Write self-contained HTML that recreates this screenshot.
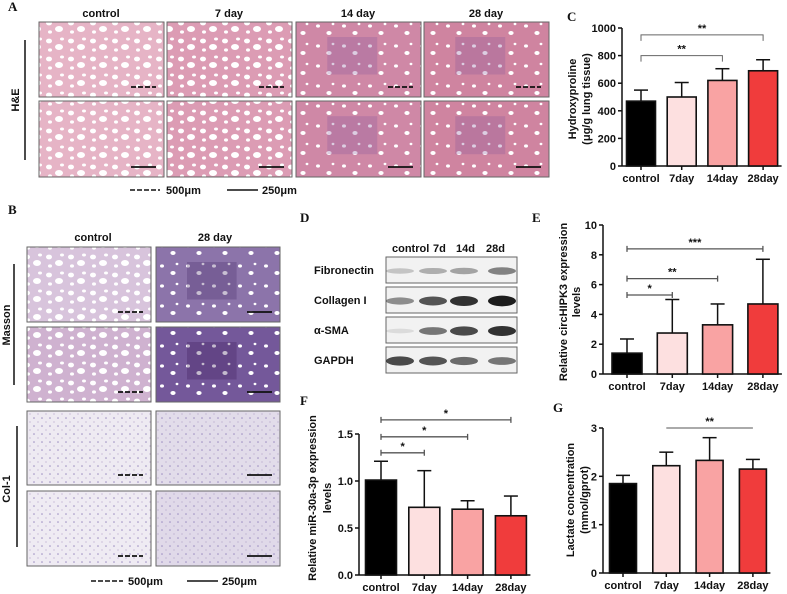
<!DOCTYPE html>
<html><head><meta charset="utf-8">
<style>
html,body{margin:0;padding:0;background:#fff;}
svg{display:block;font-family:"Liberation Sans",Arial,sans-serif;}
.t{font-weight:bold;font-size:11px;fill:#111;}
.pl{font-family:"Liberation Serif",serif;font-weight:bold;font-size:13px;fill:#111;}
</style></head>
<body>
<svg id="fig" width="787" height="594" viewBox="0 0 787 594">
<defs>
<pattern id="holesA" width="22" height="18" patternUnits="userSpaceOnUse">
<ellipse cx="5" cy="5" rx="3" ry="2.4" fill="#fff"/><ellipse cx="15" cy="11" rx="4" ry="3" fill="#fff"/><ellipse cx="6" cy="14" rx="2" ry="1.6" fill="#fff"/><ellipse cx="18" cy="3" rx="2" ry="1.5" fill="#fff"/>
</pattern>
<pattern id="holesB" width="26" height="20" patternUnits="userSpaceOnUse">
<ellipse cx="6" cy="6" rx="2" ry="1.6" fill="#fff"/><ellipse cx="17" cy="13" rx="2.6" ry="2" fill="#fff"/><ellipse cx="21" cy="4" rx="1.4" ry="1.2" fill="#fff"/>
</pattern>
<pattern id="dots" width="8" height="8" patternUnits="userSpaceOnUse">
<circle cx="2" cy="2" r="0.8" fill="#9a8cc0"/><circle cx="6" cy="6" r="0.6" fill="#b0a0c8"/>
</pattern>
</defs>

<!-- Panel A -->
<text class="pl" x="8" y="11">A</text>
<g class="t" text-anchor="middle">
<text x="101" y="17">control</text><text x="229" y="17">7 day</text><text x="358" y="17">14 day</text><text x="486" y="17">28 day</text>
</g>
<line x1="25" y1="40" x2="25" y2="160" stroke="#111" stroke-width="1.5"/>
<text class="t" transform="translate(19,100) rotate(-90)" text-anchor="middle">H&amp;E</text>
<g id="heImgs"></g>
<g>
<line x1="130" y1="190" x2="160" y2="190" stroke="#111" stroke-width="1.6" stroke-dasharray="5,2"/>
<text class="t" x="166" y="194">500μm</text>
<line x1="227" y1="190" x2="258" y2="190" stroke="#111" stroke-width="1.6"/>
<text class="t" x="262" y="194">250μm</text>
</g>

<!-- Panel B -->
<text class="pl" x="8" y="214">B</text>
<g class="t" text-anchor="middle"><text x="93" y="241">control</text><text x="215" y="241">28 day</text></g>
<line x1="14" y1="264" x2="14" y2="385" stroke="#111" stroke-width="1.5"/>
<text class="t" transform="translate(10,325) rotate(-90)" text-anchor="middle">Masson</text>
<line x1="17" y1="426" x2="17" y2="547" stroke="#111" stroke-width="1.5"/>
<text class="t" transform="translate(10,489) rotate(-90)" text-anchor="middle">Col-1</text>
<g id="bImgs"></g>
<g>
<line x1="91" y1="581" x2="123" y2="581" stroke="#111" stroke-width="1.6" stroke-dasharray="5,2"/>
<text class="t" x="128" y="585">500μm</text>
<line x1="187" y1="581" x2="218" y2="581" stroke="#111" stroke-width="1.6"/>
<text class="t" x="222" y="585">250μm</text>
</g>

<!-- Panel D -->
<text class="pl" x="300" y="222">D</text>
<g class="t">
<text x="392" y="252">control</text><text x="433" y="252">7d</text><text x="456" y="252">14d</text><text x="486" y="252">28d</text>
</g>
<g id="wb"></g>

<text class="pl" x="567" y="21">C</text>
<text class="pl" x="532" y="222">E</text>
<text class="pl" x="300" y="405">F</text>
<text class="pl" x="553" y="412">G</text>

<g id="chartC"></g>
<g id="chartE"></g>
<g id="chartF"></g>
<g id="chartG"></g>
</svg>
<script>
const NS='http://www.w3.org/2000/svg';
function mk(parent,tag,attrs,text){const e=document.createElementNS(NS,tag);for(const k in attrs)e.setAttribute(k,attrs[k]);if(text!==undefined)e.textContent=text;parent.appendChild(e);return e;}

function tile(g,x,y,w,h,bg,pat,dark,scale){
  const r=mk(g,'rect',{x:x,y:y,width:w,height:h,fill:bg});
  
  
  mk(g,'rect',{x:x,y:y,width:w,height:h,fill:'url(#'+pat+')'});
  if(dark) mk(g,'rect',{x:x+w*0.25,y:y+h*0.2,width:w*0.4,height:h*0.5,fill:dark,opacity:0.3});
  mk(g,'rect',{x:x,y:y,width:w,height:h,fill:'none',stroke:'#666','stroke-width':1});
  if(scale){const attrs={x1:x+w-33,y1:y+h-10,x2:x+w-8,y2:y+h-10,stroke:'#111','stroke-width':1.8};if(scale==='d')attrs['stroke-dasharray']='5,2';mk(g,'line',attrs);}
}
const heG=document.getElementById('heImgs');
const heX=[39,167,296,424], heBg=['#e6b4c6','#dc9cb4','#cf88a6','#cf84a0'];
heX.forEach((x,i)=>{tile(heG,x,22,125,75,heBg[i],i<2?'holesA':'holesB',i>=2?'#8a5a9a':null,'d');tile(heG,x,101,125,76,heBg[i],i<2?'holesA':'holesB',i>=2?'#8a5a9a':null,'s');});
const bG=document.getElementById('bImgs');
tile(bG,27,247,124,75,'#d8c4dc','holesA',null,'d');tile(bG,156,247,124,75,'#8c74aa','holesB','#4a2a6a','s');
tile(bG,27,327,124,75,'#cfb2d0','holesA',null,'d');tile(bG,156,327,124,75,'#74589a','holesB','#3a1a5a','s');
tile(bG,27,411,124,74,'#eeeaf2','dots',null,'d');tile(bG,156,411,124,74,'#e2dcea','dots',null,'s');
tile(bG,27,491,124,75,'#efebf3','dots',null,'d');tile(bG,156,491,124,75,'#e0d9e9','dots',null,'s');

// western blot
const wbNames=['Fibronectin','Collagen I','α-SMA','GAPDH'];
const wbY=[257,287,317,347];
const wbInt=[[0.2,0.3,0.35,0.5],[0.45,0.7,0.85,0.95],[0.1,0.55,0.75,0.85],[0.75,0.7,0.6,0.55]];
const laneX=[400,433,464,502];
const wb=document.getElementById('wb');
wbNames.forEach((n,r)=>{
  const t=mk(wb,'text',{x:314,y:wbY[r]+17,class:'t'},n);
  
  
  mk(wb,'rect',{x:386,y:wbY[r],width:131,height:26,fill:'#f2f2f2',stroke:'#666'});
  wbInt[r].forEach((v,i)=>{mk(wb,'ellipse',{cx:laneX[i],cy:wbY[r]+14,rx:14,ry:2+v*3.5,fill:'#111',opacity:v});});
});

// chart data
const cats=['control','7day','14day','28day'];
const colors=['#000000','#fde0e0','#f9a3a3','#f03c3c'];
const cVals=[470,500,620,690], cErr=[80,105,85,80], cTicks=[0,200,400,600,800,1000];
const eVals=[1.4,2.75,3.3,4.7], eErr=[0.95,2.25,1.4,3.0], eTicks=[0,2,4,6,8,10];
const fVals=[1.01,0.72,0.70,0.63], fErr=[0.2,0.39,0.09,0.21], fTicks=[0,0.5,1.0,1.5];
const gVals=[1.85,2.22,2.33,2.15], gErr=[0.17,0.28,0.47,0.2], gTicks=[0,1,2,3];

function chart(id,o){
  const g=document.getElementById(id);
  const y=v=>o.y0-v/o.max*(o.y0-o.ytop);
  const x=i=>o.x0+i*o.step;
  mk(g,'line',{x1:o.ax,y1:o.ytop,x2:o.ax,y2:o.y0,stroke:'#111','stroke-width':1.5});
  mk(g,'line',{x1:o.ax,y1:o.y0,x2:x(3)+o.bw/2+4,y2:o.y0,stroke:'#111','stroke-width':1.5});
  o.ticks.forEach(t=>{
    mk(g,'line',{x1:o.ax-4,y1:y(t),x2:o.ax,y2:y(t),stroke:'#111','stroke-width':1.5});
    const tl=mk(g,'text',{x:o.ax-6,y:y(t)+4,'text-anchor':'end',class:'t'},o.fmt(t));
    
    
  });
  o.vals.forEach((v,i)=>{
    const cx=x(i), top=y(v+o.err[i]);
    mk(g,'line',{x1:cx,y1:y(v),x2:cx,y2:top,stroke:'#111','stroke-width':1.5});
    mk(g,'line',{x1:cx-7,y1:top,x2:cx+7,y2:top,stroke:'#111','stroke-width':1.5});
    const b=mk(g,'rect',{x:cx-o.bw/2,y:y(v),width:o.bw,height:o.y0-y(v),fill:colors[i],stroke:'#111','stroke-width':1.6});
    
    
    mk(g,'line',{x1:cx,y1:o.y0,x2:cx,y2:o.y0+4,stroke:'#111','stroke-width':1.5});
    const l=mk(g,'text',{x:cx,y:o.y0+16,'text-anchor':'middle',class:'t'},cats[i]);
    
    
  });
  o.sig.forEach(s=>{
    const a=x(s.a),b=x(s.b),yy=y(s.v);
    if(s.type==='down'){mk(g,'path',{d:`M${a},${yy+6}V${yy}H${b}V${yy+6}`,fill:'none',stroke:'#666','stroke-width':1});}
    else if(s.type==='cap'){mk(g,'path',{d:`M${a},${yy-3}V${yy+3}M${a},${yy}H${b}M${b},${yy-3}V${yy+3}`,fill:'none',stroke:'#555','stroke-width':1.3});}
    else mk(g,'line',{x1:a,y1:yy,x2:b,y2:yy,stroke:'#555','stroke-width':1});
    mk(g,'text',{x:(a+b)/2,y:yy-3,'text-anchor':'middle',class:'t','font-size':'10px'},s.t);
  });
  o.title.forEach((t,k)=>{
    const tt=mk(g,'text',{transform:`translate(${o.tx[k]},${o.ty}) rotate(-90)`,'text-anchor':'middle',class:'t','font-size':'12px'},t);
    
    
  });
}
const f0=t=>String(t), f1=t=>t.toFixed(1);
chart('chartC',{ax:622,y0:166,ytop:28,max:1000,x0:641,step:40.7,bw:29,vals:cVals,err:cErr,ticks:cTicks,fmt:f0,
  sig:[{a:0,b:2,v:800,t:'**',type:'down'},{a:0,b:3,v:950,t:'**',type:'down'}],
  title:['Hydroxyproline','(μg/g lung tissue)'],tx:[576,590],ty:99});
chart('chartE',{ax:603,y0:374,ytop:225,max:10,x0:627,step:45.3,bw:30,vals:eVals,err:eErr,ticks:eTicks,fmt:f0,
  sig:[{a:0,b:1,v:5.3,t:'*',type:'cap'},{a:0,b:2,v:6.4,t:'**',type:'cap'},{a:0,b:3,v:8.4,t:'***',type:'cap'}],
  title:['Relative circHIPK3 expression','levels'],tx:[567,580],ty:302});
chart('chartF',{ax:359,y0:575,ytop:434,max:1.5,x0:381,step:43.3,bw:31,vals:fVals,err:fErr,ticks:fTicks,fmt:f1,
  sig:[{a:0,b:1,v:1.3,t:'*',type:'cap'},{a:0,b:2,v:1.47,t:'*',type:'cap'},{a:0,b:3,v:1.65,t:'*',type:'cap'}],
  title:['Relative miR-30a-3p expression','levels'],tx:[316,331],ty:498});
chart('chartG',{ax:603,y0:573,ytop:428,max:3,x0:623,step:43.3,bw:27,vals:gVals,err:gErr,ticks:gTicks,fmt:f0,
  sig:[{a:1,b:3,v:3.0,t:'**',type:'line'}],
  title:['Lactate concentration','(mmol/gprot)'],tx:[574,588],ty:500});
</script>
</body></html>
